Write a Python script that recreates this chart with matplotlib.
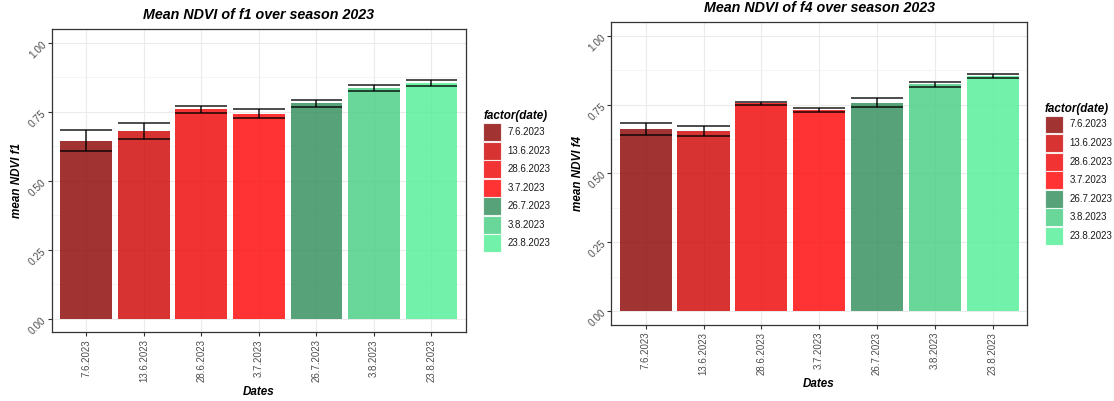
import matplotlib
matplotlib.use("Agg")
import matplotlib.pyplot as plt
from matplotlib.patches import Patch
from matplotlib.ticker import MultipleLocator
import numpy as np

plt.rcParams["font.family"] = ["Liberation Sans", "DejaVu Sans"]

# --- data -------------------------------------------------------------
dates = ["7.6.2023", "13.6.2023", "28.6.2023", "3.7.2023",
         "26.7.2023", "3.8.2023", "23.8.2023"]

f1_mean = [0.645, 0.679, 0.759, 0.743, 0.780, 0.836, 0.855]
f1_se = [0.038, 0.029, 0.013, 0.016, 0.014, 0.011, 0.010]

f4_mean = [0.661, 0.655, 0.754, 0.729, 0.757, 0.823, 0.853]
f4_se = [0.0215, 0.0175, 0.0055, 0.007, 0.0175, 0.009, 0.0065]

date_colors = ["#8B0000", "#CD0000", "#EE0000", "#FF0000",
               "#2E8B57", "#43CD80", "#4EEE94"]

y_ticks = [0.0, 0.25, 0.5, 0.75, 1.0]
y_tick_labels = ["0.00", "0.25", "0.50", "0.75", "1.00"]

panels = [
    dict(name="f1", mean=f1_mean, se=f1_se,
         rect=[51.8 / 1114, 1 - 332.3 / 401, 414.2 / 1114, 303.3 / 401],
         legend_xy=(480.5, 107.5), ylab_x=-0.085),
    dict(name="f4", mean=f4_mean, se=f4_se,
         rect=[611.0 / 1114, 1 - 324.7 / 401, 416.3 / 1114, 302.7 / 401],
         legend_xy=(1042.0, 100.0), ylab_x=-0.080),
]

TICK_GREY = "#4D4D4D"
BAR_ALPHA = 0.8

fig = plt.figure(figsize=(11.14, 4.01), dpi=100)

for p in panels:
    ax = fig.add_axes(p["rect"])
    x = np.arange(len(dates))
    mean = np.array(p["mean"])
    se = np.array(p["se"])

    ax.bar(x, mean, width=0.9, color=date_colors, alpha=BAR_ALPHA,
           linewidth=0, zorder=2)
    # error bars: stem plus caps spanning the full bar width
    ax.vlines(x, mean - se, mean + se, colors="black", alpha=0.7,
              linewidth=1.4, zorder=3)
    ax.hlines(np.concatenate([mean - se, mean + se]),
              np.concatenate([x, x]) - 0.45,
              np.concatenate([x, x]) + 0.45, colors="black", alpha=0.7,
              linewidth=1.4, zorder=3)

    ax.set_xlim(-0.6, len(dates) - 0.4)
    ax.set_ylim(-0.05, 1.05)

    ax.set_xticks(x)
    ax.set_xticklabels(dates, rotation=90, fontsize=7, color=TICK_GREY)
    ax.set_yticks(y_ticks)
    ax.set_yticklabels(y_tick_labels, rotation=45, fontsize=7.3,
                       color=TICK_GREY, ha="right", va="center",
                       rotation_mode="anchor")
    ax.yaxis.set_minor_locator(MultipleLocator(0.125))
    ax.tick_params(axis="both", which="major", length=3, width=0.8,
                   color="#333333", pad=2)
    ax.tick_params(axis="y", which="minor", length=0)

    ax.grid(True, which="major", color="#EBEBEB", linewidth=0.8, zorder=0)
    ax.grid(True, which="minor", axis="y", color="#F2F2F2", linewidth=0.5,
            zorder=0)
    ax.set_axisbelow(True)
    for s in ax.spines.values():
        s.set_color("#333333")
        s.set_linewidth(0.9)

    ax.set_title(f"Mean NDVI of {p['name']} over season 2023", fontsize=10.3,
                 fontweight="bold", style="italic", pad=7)
    ax.set_xlabel("Dates", fontsize=8.4, fontweight="bold", style="italic")
    ax.set_ylabel(f"mean NDVI {p['name']}", fontsize=8.4, fontweight="bold",
                  style="italic")
    ax.xaxis.set_label_coords(0.5, -0.196)
    ax.xaxis.label.set_va("center")
    ax.yaxis.set_label_coords(p["ylab_x"], 0.5)
    ax.yaxis.label.set_va("center")

    handles = [Patch(facecolor=c, alpha=BAR_ALPHA, edgecolor="white",
                     linewidth=0.8) for c in date_colors]
    lx, ly = p["legend_xy"]
    leg = fig.legend(handles, dates, loc="upper left",
                     bbox_to_anchor=(lx / 1114, 1 - ly / 401),
                     frameon=False, fontsize=7, title="factor(date)",
                     title_fontproperties=dict(size=8.4, weight="bold",
                                               style="italic"),
                     handlelength=1.85, handleheight=2.47,
                     handletextpad=0.65, labelspacing=0.06,
                     borderpad=0.3, borderaxespad=0)
    leg._legend_box.align = "left"
    for t in leg.get_texts():
        t.set_color("#1A1A1A")

fig.savefig("out.png", dpi=100)
